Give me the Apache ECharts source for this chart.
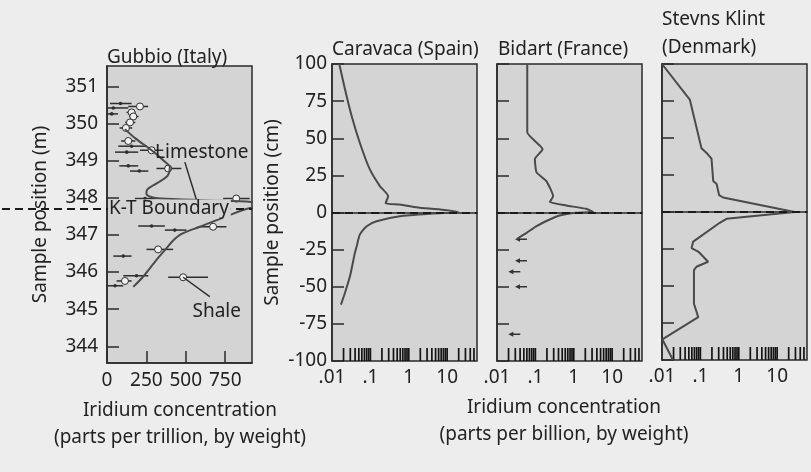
<!DOCTYPE html>
<html><head><meta charset="utf-8">
<script src="https://cdn.jsdelivr.net/npm/echarts@6/dist/echarts.min.js"></script>
<style>html,body{margin:0;padding:0;background:#ededed}#c{width:811px;height:472px}</style>
</head><body><div id="c"></div>
<script>
// ---------- tick labels ----------
const gubbioYTicks = [344, 345, 346, 347, 348, 349, 350, 351];
const gubbioXTicks = [0, 250, 500, 750];
const logTickValues = [0.01, 0.1, 1, 10];
const logTickTexts = ['.01', '.1', '1', '10'];
const rugTicks = [0.02,0.03,0.04,0.05,0.06,0.07,0.08,0.09,0.1,
                  0.2,0.3,0.4,0.5,0.6,0.7,0.8,0.9,1,
                  2,3,4,5,6,7,8,9,10,
                  20,30,40,50];

// ---------- Gubbio (Italy): ppt vs metres ----------
const gubbioCurve = [
  [114,349.85],[180,349.6],[283,349.28],[360,349.0],[399,348.82],[385,348.6],
  [320,348.4],[255,348.22],[250,348.1],[300,348.0],[450,347.96],[650,347.93],
  [916,347.89],[1200,347.8],[916,347.73],[758,347.5],[589,347.22],[470,347.02],
  [420,346.85],[377,346.64],[314,346.33],[230,345.88],[167,345.6]
];
// [value, position, low, high, kind(1=open circle, 0=dot)]
const gubbioPoints = [
  [86,350.54,19,156,0],[209,350.46,135,261,1],[40,350.42,0,135,0],[30,350.26,0,70,0],
  [156,350.30,124,181,1],[167,350.19,140,200,1],[146,350.03,115,180,1],[120,349.88,80,160,1],
  [135,349.53,90,180,1],[156,349.39,72,251,0],[283,349.28,209,357,1],[125,349.23,51,198,0],
  [135,348.86,78,198,0],[388,348.79,314,472,1],[205,348.72,146,262,0],[241,347.98,177,314,0],
  [820,347.98,737,905,1],[504,347.91,441,610,0],[283,347.24,198,367,0],[673,347.22,589,758,1],
  [430,347.13,367,504,0],[324,346.61,251,420,1],[103,346.43,40,156,0],[187,345.90,103,262,0],
  [483,345.86,388,641,1],[114,345.76,61,156,1],[51,345.63,0,103,0]
];
const gubbioBoundary = 347.7;
const limestoneAnchor = [601, 349.22];
const limestonePointer = [[494, 348.96], [568, 347.94]];
const shaleAnchor = [696, 344.93];
const shalePointer = [[483, 345.86], [652, 345.34]];

// ---------- Caravaca (Spain): ppb vs cm ----------
const caravaca = [
  [0.0155,100],[0.0218,83],[0.0325,65],[0.053,47],[0.097,29],[0.177,17.8],[0.29,11],
  [0.25,6.3],[0.58,5.4],[1.93,3.2],[9.5,1.6],[20,0.3],[4.2,-0.7],[0.58,-2.5],
  [0.145,-5.9],[0.08,-9.2],[0.053,-14.9],[0.044,-22.8],[0.0396,-27],[0.0294,-43],
  [0.0218,-54],[0.0171,-62]
];
// ---------- Bidart (France) ----------
const bidart = [
  [0.0614,100],[0.0614,54],[0.131,45],[0.154,42.6],[0.097,36],[0.107,27],[0.195,21],
  [0.29,11],[0.237,7],[0.64,4.7],[2.1,2.5],[3.2,0.5],[1.17,-0.2],[0.43,-2],
  [0.237,-4.7],[0.107,-9.2],[0.059,-13.7],[0.034,-17.5]
];
const bidartUpperLimits = [[0.0294,-18],[0.0294,-32.5],[0.0197,-39.9],[0.0294,-50],[0.0197,-82]];
// ---------- Stevns Klint (Denmark) ----------
const stevns = [
  [0.01,100],[0.053,76],[0.107,43],[0.15,39.5],[0.195,36],[0.216,21],[0.265,19],
  [0.307,11.4],[0.39,9.8],[28.5,0],[0.48,-4.6],[0.32,-7.3],[0.065,-20],[0.059,-24.4],
  [0.088,-26.7],[0.159,-33.6],[0.079,-37],[0.068,-39.3],[0.068,-62],[0.088,-71],
  [0.0102,-86],[0.0193,-100]
];

const FONT = "'Noto Sans', sans-serif";
const INK = '#222';
const CURVE = '#4a4a4a';
const FILL = '#d4d4d4';

const chart = echarts.init(document.getElementById('c'), null, {renderer: 'canvas'});

const grids = [
  {left:107, top:66, width:145, height:297},
  {left:332, top:64, width:145, height:297},
  {left:497, top:64, width:145, height:297},
  {left:662, top:64, width:145, height:296}
].map(g => Object.assign(g, {show:true, backgroundColor:FILL, borderColor:'#2a2a2a', borderWidth:1.5}));

const labelStyle = {fontFamily:FONT, fontSize:19, color:INK};

function logX(i) {
  return {
    type:'log', logBase:10, gridIndex:i, min:0.01, max:60,
    axisLine:{show:true, lineStyle:{color:'#2a2a2a', width:1.5}},
    axisTick:{show:false}, minorTick:{show:false}, splitLine:{show:false},
    axisLabel: Object.assign({}, labelStyle, {margin:7, hideOverlap:false,
      formatter: v => {
        const e = Math.log10(v);
        if (Math.abs(e - Math.round(e)) > 1e-6) return '';
        const idx = logTickValues.findIndex(t => Math.abs(Math.log10(t) - e) < 1e-6);
        return idx >= 0 ? logTickTexts[idx] : '';
      }})
  };
}
function cmY(i, showLabels) {
  return {
    type:'value', gridIndex:i, min:-100, max:100, interval:25,
    axisLine:{show:true, lineStyle:{color:'#2a2a2a', width:1.5}},
    axisTick:{show:true, inside:true, length:12, lineStyle:{color:'#2a2a2a', width:1.5}},
    splitLine:{show:false},
    axisLabel: Object.assign({}, labelStyle, {show:showLabels, margin:5}),
    name: showLabels ? 'Sample position (cm)' : '',
    nameLocation:'middle', nameGap:50, nameRotate:90,
    nameTextStyle:{fontFamily:FONT, fontSize:19, color:INK}
  };
}

function rugSeries(i) {
  return {
    type:'custom', xAxisIndex:i, yAxisIndex:i, silent:true,
    data: rugTicks.map(v => [v, -100]),
    renderItem: (params, api) => {
      const p = api.coord([api.value(0), api.value(1)]);
      return {type:'line', shape:{x1:p[0], y1:p[1], x2:p[0], y2:p[1]-13},
              style:{stroke:'#141414', lineWidth:1.7}};
    }
  };
}
const zeroLine = {
  silent:true, symbol:'none', label:{show:false},
  lineStyle:{type:[8,5], color:'#1a1a1a', width:2},
  data:[{yAxis:0}]
};

chart.setOption({
  animation:false,
  backgroundColor:'#ededed',
  grid: grids,
  xAxis: [
    {
      type:'value', gridIndex:0, min:0, max:920,
      axisLine:{show:true, lineStyle:{color:'#2a2a2a', width:1.5}},
      axisTick:{show:true, inside:true, length:12, customValues:gubbioXTicks, lineStyle:{color:'#2a2a2a', width:1.5}},
      splitLine:{show:false},
      axisLabel: Object.assign({}, labelStyle, {margin:8, customValues:gubbioXTicks})
    },
    logX(1), logX(2), logX(3)
  ],
  yAxis: [
    {
      type:'value', gridIndex:0, min:343.55, max:351.55,
      axisLine:{show:true, lineStyle:{color:'#2a2a2a', width:1.5}},
      axisTick:{show:true, inside:true, length:12, customValues:gubbioYTicks, lineStyle:{color:'#2a2a2a', width:1.5}},
      splitLine:{show:false},
      axisLabel: Object.assign({}, labelStyle, {margin:9, customValues:gubbioYTicks}),
      name:'Sample position (m)', nameLocation:'middle', nameGap:57, nameRotate:90,
      nameTextStyle:{fontFamily:FONT, fontSize:19, color:INK}
    },
    cmY(1, true), cmY(2, false), cmY(3, false)
  ],
  series: [
    {
      type:'line', xAxisIndex:0, yAxisIndex:0, data:gubbioCurve, smooth:0.3,
      showSymbol:false, clip:true, lineStyle:{color:CURVE, width:2}
    },
    {
      type:'custom', xAxisIndex:0, yAxisIndex:0, data:gubbioPoints, silent:true,
      renderItem: (params, api) => {
        const y = api.value(1);
        const p = api.coord([api.value(0), y]);
        const l = api.coord([api.value(2), y]);
        const h = api.coord([api.value(3), y]);
        const ch = [{type:'line', shape:{x1:l[0], y1:l[1], x2:h[0], y2:h[1]}, style:{stroke:'#2e2e2e', lineWidth:1.5}}];
        if (api.value(4) === 1) ch.push({type:'circle', shape:{cx:p[0], cy:p[1], r:3.5}, style:{fill:'#f2f2f2', stroke:'#2e2e2e', lineWidth:1}});
        else ch.push({type:'circle', shape:{cx:p[0], cy:p[1], r:1.8}, style:{fill:'#2e2e2e'}});
        return {type:'group', children:ch};
      }
    },
    {
      type:'line', xAxisIndex:1, yAxisIndex:1, data:caravaca, smooth:0.2,
      showSymbol:false, clip:true, lineStyle:{color:CURVE, width:2}, markLine:zeroLine
    },
    {
      type:'line', xAxisIndex:2, yAxisIndex:2, data:bidart, smooth:0.15,
      showSymbol:false, clip:true, lineStyle:{color:CURVE, width:2}, markLine:zeroLine
    },
    {
      type:'custom', xAxisIndex:2, yAxisIndex:2, data:bidartUpperLimits, silent:true,
      renderItem: (params, api) => {
        const p = api.coord([api.value(0), api.value(1)]);
        return {type:'group', children:[
          {type:'line', shape:{x1:p[0]+3, y1:p[1], x2:p[0]+12, y2:p[1]}, style:{stroke:'#333', lineWidth:1.5}},
          {type:'polygon', shape:{points:[[p[0], p[1]], [p[0]+5, p[1]-2.5], [p[0]+5, p[1]+2.5]]}, style:{fill:'#333'}}
        ]};
      }
    },
    {
      type:'line', xAxisIndex:3, yAxisIndex:3, data:stevns, smooth:false,
      showSymbol:false, clip:true, lineStyle:{color:CURVE, width:2}, markLine:zeroLine
    },
    rugSeries(1), rugSeries(2), rugSeries(3)
  ]
});

// ---------- annotations placed through the chart's own scales ----------
const toPx = v => chart.convertToPixel({xAxisIndex:0, yAxisIndex:0}, v);
const kt = toPx([0, gubbioBoundary]);
const gRight = toPx([920, gubbioBoundary])[0];
const lim = toPx(limestoneAnchor), sh = toPx(shaleAnchor);
const lp0 = toPx(limestonePointer[0]), lp1 = toPx(limestonePointer[1]);
const sp0 = toPx(shalePointer[0]), sp1 = toPx(shalePointer[1]);
const txt = (x, y, text, align, extra) => ({type:'text', z:100, style:Object.assign({
  x, y, text, fill:INK, font:'19px ' + FONT, textAlign:align || 'left', textVerticalAlign:'middle'}, extra || {})});

chart.setOption({
  graphic: [
    {type:'line', z:90, shape:{x1:2, y1:kt[1], x2:gRight, y2:kt[1]}, style:{stroke:'#1a1a1a', lineWidth:2, lineDash:[8,5]}},
    txt(kt[0] + 1, kt[1], 'K-T Boundary', 'left', {backgroundColor:FILL, padding:[0,2,0,1]}),
    {type:'line', z:95, shape:{x1:lp0[0], y1:lp0[1], x2:lp1[0], y2:lp1[1]}, style:{stroke:'#2e2e2e', lineWidth:1.5}},
    {type:'line', z:95, shape:{x1:sp0[0], y1:sp0[1], x2:sp1[0], y2:sp1[1]}, style:{stroke:'#2e2e2e', lineWidth:1.5}},
    txt(lim[0], lim[1], 'Limestone', 'center'),
    txt(sh[0], sh[1], 'Shale', 'center'),
    txt(107, 58, 'Gubbio (Italy)'),
    txt(332, 50, 'Caravaca (Spain)'),
    txt(498, 50, 'Bidart (France)'),
    txt(662, 20, 'Stevns Klint'),
    txt(662, 48, '(Denmark)'),
    txt(180, 411, 'Iridium concentration', 'center'),
    txt(180, 438, '(parts per trillion, by weight)', 'center'),
    txt(564, 408, 'Iridium concentration', 'center'),
    txt(564, 435, '(parts per billion, by weight)', 'center')
  ]
});
</script>
</body></html>
